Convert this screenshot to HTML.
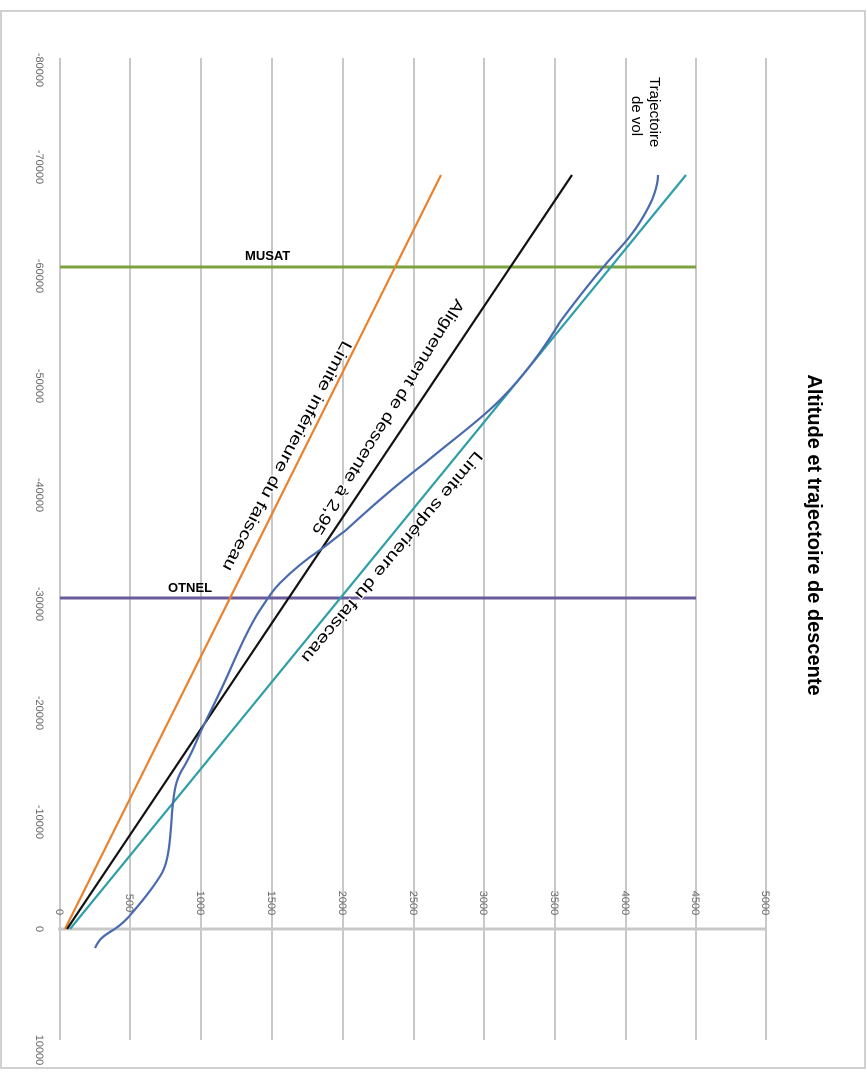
<!DOCTYPE html>
<html><head><meta charset="utf-8"><style>
html,body{margin:0;padding:0;background:#fff}
svg{display:block}
</style></head><body>
<svg width="867" height="1072" viewBox="0 0 867 1072" xmlns="http://www.w3.org/2000/svg" font-family="Liberation Sans, sans-serif">
<rect x="1" y="11" width="864" height="1057" fill="#fff" stroke="#d0d0d0" stroke-width="2"/>
<g stroke="#c8c8c8" stroke-width="2">
<line x1="130" y1="58" x2="130" y2="1040"/>
<line x1="201" y1="58" x2="201" y2="1040"/>
<line x1="272" y1="58" x2="272" y2="1040"/>
<line x1="343" y1="58" x2="343" y2="1040"/>
<line x1="414" y1="58" x2="414" y2="1040"/>
<line x1="484" y1="58" x2="484" y2="1040"/>
<line x1="555" y1="58" x2="555" y2="1040"/>
<line x1="626" y1="58" x2="626" y2="1040"/>
<line x1="696" y1="58" x2="696" y2="1040"/>
<line x1="766" y1="58" x2="766" y2="1040"/>
<line x1="60" y1="58" x2="60" y2="1040"/>
</g>
<line x1="58" y1="929" x2="766" y2="929" stroke="#c8c8c8" stroke-width="3"/>
<g fill="#666" font-size="11">
<text transform="translate(36,70) rotate(90)" text-anchor="middle">-80000</text>
<text transform="translate(36,167) rotate(90)" text-anchor="middle">-70000</text>
<text transform="translate(36,276) rotate(90)" text-anchor="middle">-60000</text>
<text transform="translate(36,386) rotate(90)" text-anchor="middle">-50000</text>
<text transform="translate(36,495) rotate(90)" text-anchor="middle">-40000</text>
<text transform="translate(36,604) rotate(90)" text-anchor="middle">-30000</text>
<text transform="translate(36,713) rotate(90)" text-anchor="middle">-20000</text>
<text transform="translate(36,822) rotate(90)" text-anchor="middle">-10000</text>
<text transform="translate(36,929) rotate(90)" text-anchor="middle">0</text>
<text transform="translate(36,1050) rotate(90)" text-anchor="middle">10000</text>
<text transform="translate(56,912) rotate(90)" text-anchor="middle">0</text>
<text transform="translate(126,903) rotate(90)" text-anchor="middle">500</text>
<text transform="translate(197,903) rotate(90)" text-anchor="middle">1000</text>
<text transform="translate(268,903) rotate(90)" text-anchor="middle">1500</text>
<text transform="translate(339,903) rotate(90)" text-anchor="middle">2000</text>
<text transform="translate(410,903) rotate(90)" text-anchor="middle">2500</text>
<text transform="translate(480,903) rotate(90)" text-anchor="middle">3000</text>
<text transform="translate(551,903) rotate(90)" text-anchor="middle">3500</text>
<text transform="translate(622,903) rotate(90)" text-anchor="middle">4000</text>
<text transform="translate(692,903) rotate(90)" text-anchor="middle">4500</text>
<text transform="translate(762,903) rotate(90)" text-anchor="middle">5000</text>
</g>
<line x1="60" y1="267" x2="696" y2="267" stroke="#7ba23f" stroke-width="3"/>
<line x1="60" y1="598" x2="696" y2="598" stroke="#6a5a9a" stroke-width="3"/>
<line x1="65" y1="929" x2="441" y2="175" stroke="#e8822e" stroke-width="2.2"/>
<line x1="67" y1="929" x2="572" y2="175" stroke="#111" stroke-width="2.2"/>
<line x1="70" y1="929" x2="686" y2="175" stroke="#2e9ea8" stroke-width="2.2"/>
<path d="M95,948 C98,942 100,938 110,932 C122,925 128,918 132,913 C145,898 155,885 162,873 C168,862 170,845 172,813 C174,790 176,780 182,770 C190,757 195,745 200,733 C210,712 220,693 230,670 C240,647 250,625 260,610 C268,598 273,590 280,583 C295,568 308,558 320,550 C330,543 335,538 345,531 C370,508 400,482 425,463 C450,442 480,420 500,400 C520,380 540,355 560,322 C580,295 600,270 620,248 C635,232 645,215 652,200 C656,190 658,182 658,175" fill="none" stroke="#4a6aae" stroke-width="2.2"/>
<g font-weight="bold" font-size="13" fill="#000">
<text x="245" y="260">MUSAT</text>
<text x="168" y="592">OTNEL</text>
</g>
<g font-size="16" fill="#000" text-anchor="middle" stroke="#fff" stroke-width="2" paint-order="stroke">
<text transform="translate(287,456) rotate(117.9)" dy="5" textLength="258" lengthAdjust="spacingAndGlyphs">Limite inférieure du faisceau</text>
<text transform="translate(388,417) rotate(121.9)" dy="5" textLength="274" lengthAdjust="spacingAndGlyphs">Alignement de descente à 2,95</text>
<text transform="translate(392,557) rotate(130.2)" dy="5" textLength="271" lengthAdjust="spacingAndGlyphs">Limite supérieure du faisceau</text>
</g>
<g font-size="15" fill="#000">
<text transform="translate(650,77) rotate(90)">Trajectoire</text>
<text transform="translate(632,96) rotate(90)">de vol</text>
</g>
<text transform="translate(808,535) rotate(90)" text-anchor="middle" font-weight="bold" font-size="20">Altitude et trajectoire de descente</text>
</svg>
</body></html>
